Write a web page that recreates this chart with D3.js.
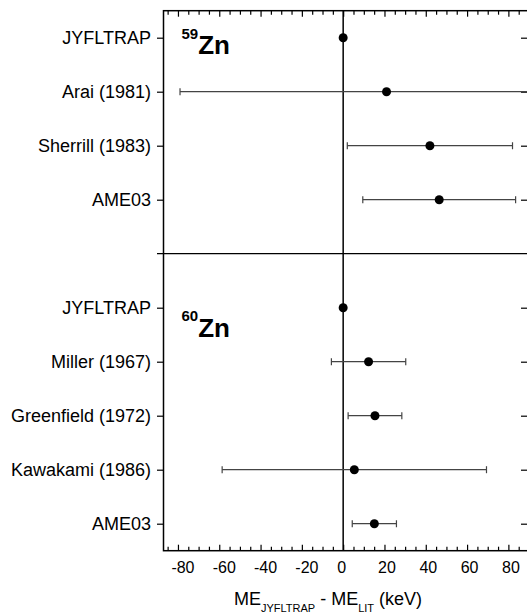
<!DOCTYPE html>
<html>
<head>
<meta charset="utf-8">
<script src="https://cdn.jsdelivr.net/npm/d3@7"></script>
<style>
  html, body { margin: 0; padding: 0; background: #fff; }
  svg { display: block; font-family: "Liberation Sans", Arial, sans-serif; }
</style>
</head>
<body>
<div id="chart"></div>
<script>
// 59Zn 各测量值 (keV)
const labels59 = ["JYFLTRAP", "Arai (1981)", "Sherrill (1983)", "AME03"];
const values59 = [0, 21, 42, 46.5];
const errors59 = [0, 100, 40, 37];

// 60Zn 各测量值 (keV)
const labels60 = ["JYFLTRAP", "Miller (1967)", "Greenfield (1972)", "Kawakami (1986)", "AME03"];
const values60 = [0, 12.3, 15.4, 5.4, 15.1];
const errors60 = [0, 18, 13, 64, 10.7];

const isotopes = [{ mass: "59", el: "Zn" }, { mass: "60", el: "Zn" }];
const xTicks = [-80, -60, -40, -20, 0, 20, 40, 60, 80];

const width = 527, height = 614;
const plotLeft = 163.5, plotRight = 528, plotTop = 10.7, plotBottom = 550.7;

// 行: 0-3 为 59Zn, 4 为分隔, 5-9 为 60Zn
const rowLabels = labels59.concat([""], labels60);
const rows = labels59.map((l, i) => ({ row: i, v: values59[i], e: errors59[i] }))
  .concat(labels60.map((l, i) => ({ row: i + 5, v: values60[i], e: errors60[i] })));
const dividerRow = 4;

const x = d3.scaleLinear().domain([-87, 89.5]).range([plotLeft, plotRight]);
const y = d3.scaleLinear().domain([-0.5, 9.5]).range([plotTop, plotBottom]);

const svg = d3.select("#chart").append("svg")
  .attr("width", width)
  .attr("height", height);

const minorTicks = d3.range(-85, 90, 5).filter(d => d % 20 !== 0);

// 上轴 (向内刻度)
const topAxis = svg.append("g").attr("transform", `translate(0,${plotTop})`);
topAxis.call(d3.axisTop(x).tickValues(xTicks).tickSize(-6).tickFormat(""));
topAxis.append("g").call(d3.axisTop(x).tickValues(minorTicks).tickSize(-4).tickFormat(""));

// 下轴
const botAxis = svg.append("g").attr("transform", `translate(0,${plotBottom})`);
botAxis.call(d3.axisBottom(x).tickValues(xTicks).tickSize(-6).tickPadding(10.5)
  .tickFormat(d => String(d)));
botAxis.append("g").call(d3.axisBottom(x).tickValues(minorTicks).tickSize(-4).tickFormat(""));
botAxis.selectAll("text")
  .attr("dx", d => d < 0 ? 4.5 : (d === 0 ? -2 : 2))
  .style("font-size", "16px")
  .attr("fill", "#000");

// 左轴
const leftAxis = svg.append("g").attr("transform", `translate(${plotLeft},0)`);
leftAxis.call(d3.axisLeft(y)
  .tickValues(rows.map(d => d.row))
  .tickFormat(i => rowLabels[i])
  .tickSize(6.5)
  .tickPadding(6));
leftAxis.selectAll("text").style("font-size", "18px").attr("fill", "#000");

// 右轴 (向内刻度)
const rightAxis = svg.append("g").attr("transform", `translate(${plotRight},0)`);
rightAxis.call(d3.axisRight(y).tickValues(rows.map(d => d.row)).tickSize(-7).tickFormat(""));

svg.selectAll(".domain").remove();
svg.selectAll(".tick line").attr("stroke", "#000").attr("stroke-width", 1.2);

// 边框
svg.append("rect")
  .attr("x", plotLeft).attr("y", plotTop)
  .attr("width", plotRight - plotLeft).attr("height", plotBottom - plotTop)
  .attr("fill", "none").attr("stroke", "#000").attr("stroke-width", 1.5);

// 分隔线
svg.append("line")
  .attr("x1", plotLeft - 6.5).attr("x2", plotRight)
  .attr("y1", y(dividerRow)).attr("y2", y(dividerRow))
  .attr("stroke", "#000").attr("stroke-width", 1.3);

// 零线
svg.append("line")
  .attr("x1", x(0)).attr("x2", x(0))
  .attr("y1", plotTop).attr("y2", plotBottom)
  .attr("stroke", "#000").attr("stroke-width", 1.5);

svg.append("clipPath").attr("id", "plot-clip")
  .append("rect")
  .attr("x", plotLeft).attr("y", plotTop)
  .attr("width", plotRight - plotLeft).attr("height", plotBottom - plotTop);

const marks = svg.append("g").attr("clip-path", "url(#plot-clip)");

// 误差棒
const bars = marks.selectAll(".err")
  .data(rows.filter(d => d.e > 0))
  .enter().append("g").attr("class", "err")
  .attr("stroke", "#444").attr("stroke-width", 1.2);

bars.append("line")
  .attr("x1", d => x(d.v - d.e)).attr("x2", d => x(d.v + d.e))
  .attr("y1", d => y(d.row)).attr("y2", d => y(d.row));

bars.selectAll(".cap")
  .data(d => [{ row: d.row, xv: d.v - d.e }, { row: d.row, xv: d.v + d.e }])
  .enter().append("line").attr("class", "cap")
  .attr("x1", d => x(d.xv)).attr("x2", d => x(d.xv))
  .attr("y1", d => y(d.row) - 3.5).attr("y2", d => y(d.row) + 3.5);

// 数据点
marks.selectAll("circle")
  .data(rows)
  .enter().append("circle")
  .attr("cx", d => x(d.v))
  .attr("cy", d => y(d.row))
  .attr("r", 4.5)
  .attr("fill", "#000");

// 同位素标签
const isoPos = [{ row: 0, dy: 16.3 }, { row: 5, dy: 29 }];
isotopes.forEach((iso, i) => {
  const t = svg.append("text")
    .attr("x", 181.5)
    .attr("y", y(isoPos[i].row) + isoPos[i].dy)
    .attr("font-weight", "bold")
    .attr("fill", "#000");
  t.append("tspan").attr("font-size", "15px").attr("dy", -15.5).text(iso.mass);
  t.append("tspan").attr("font-size", "26px").attr("dy", 15.5).text(iso.el);
});

// x 轴标题
const title = svg.append("text")
  .attr("x", 328)
  .attr("y", 604.5)
  .attr("text-anchor", "middle")
  .attr("fill", "#000")
  .style("font-size", "18px");
title.append("tspan").text("ME");
title.append("tspan").attr("font-size", "11px").attr("dy", 7).text("JYFLTRAP");
title.append("tspan").attr("dy", -7).text(" - ME");
title.append("tspan").attr("font-size", "11px").attr("dy", 7).text("LIT");
title.append("tspan").attr("dy", -7).text(" (keV)");
</script>
</body>
</html>
